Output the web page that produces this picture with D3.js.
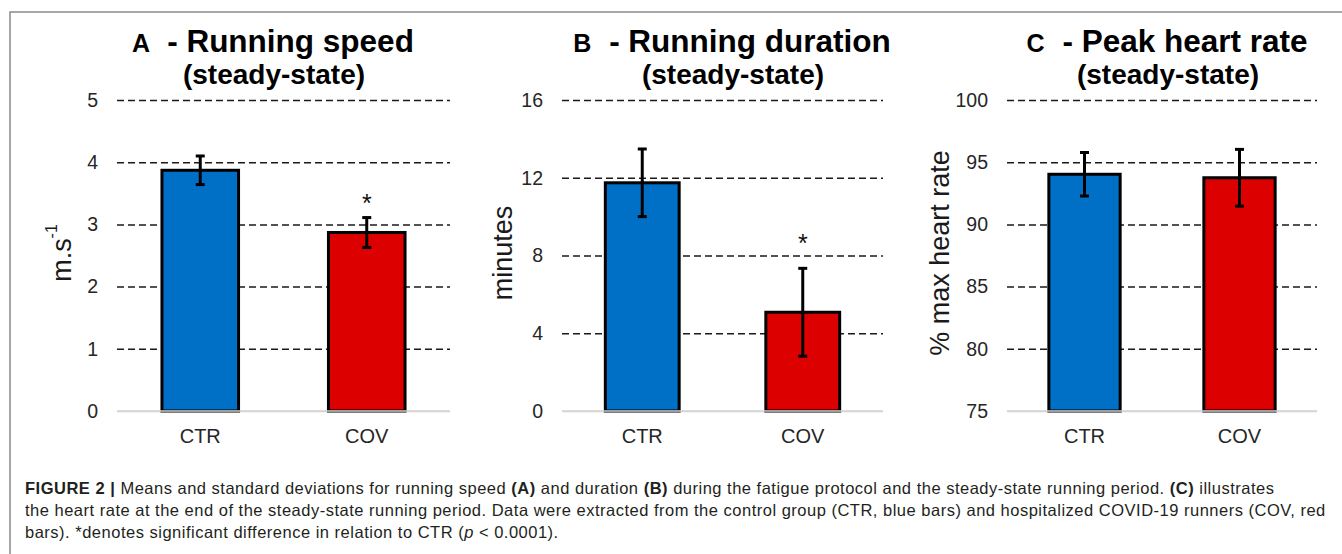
<!DOCTYPE html>
<html>
<head>
<meta charset="utf-8">
<script src="https://cdn.jsdelivr.net/npm/d3@7/dist/d3.min.js"></script>
<style>
  html, body { margin: 0; padding: 0; background: #fff; }
  svg { display: block; }
  text { font-family: "Liberation Sans", Arial, Helvetica, sans-serif; }
</style>
</head>
<body>
<svg id="chart" width="1342" height="554"></svg>
<script>
// ---- data ----
const categories = ["CTR", "COV"];

const speedMean = [3.87, 2.87];
const speedSD   = [0.23, 0.24];
const speedTicks = [0, 1, 2, 3, 4, 5];
const speedSigAt = [null, 3.2];

const durationMean = [11.74, 5.08];
const durationSD   = [1.74, 2.26];
const durationTicks = [0, 4, 8, 12, 16];
const durationSigAt = [null, 8.2];

const hrMean = [94.03, 93.75];
const hrSD   = [1.75, 2.28];
const hrTicks = [75, 80, 85, 90, 95, 100];
const hrSigAt = [null, null];

const barColors = ["#0070C6", "#DC0000"];

const panels = [
  { letter: "A", title: "- Running speed", sub: "(steady-state)", ylab: "m.s", ysup: "-1",
    mean: speedMean, sd: speedSD, ticks: speedTicks, sig: speedSigAt,
    x0: 117, x1: 450, titleX: 273, ylabX: 62 },
  { letter: "B", title: "- Running duration", sub: "(steady-state)", ylab: "minutes", ysup: null,
    mean: durationMean, sd: durationSD, ticks: durationTicks, sig: durationSigAt,
    x0: 562, x1: 883, titleX: 732, ylabX: 503 },
  { letter: "C", title: "- Peak heart rate", sub: "(steady-state)", ylab: "% max heart rate", ysup: null,
    mean: hrMean, sd: hrSD, ticks: hrTicks, sig: hrSigAt,
    x0: 1007, x1: 1317, titleX: 1167, ylabX: 940 }
];

const captionLines = [
  [{t: "FIGURE 2 | ", b: true}, {t: "Means and standard deviations for running speed "}, {t: "(A)", b: true},
   {t: " and duration "}, {t: "(B)", b: true}, {t: " during the fatigue protocol and the steady-state running period. "},
   {t: "(C)", b: true}, {t: " illustrates"}],
  [{t: "the heart rate at the end of the steady-state running period. Data were extracted from the control group (CTR, blue bars) and hospitalized COVID-19 runners (COV, red"}],
  [{t: "bars). *denotes significant difference in relation to CTR ("}, {t: "p", i: true}, {t: " < 0.0001)."}]
];

// ---- drawing ----
const svg = d3.select("#chart");
const yTop = 100, yBot = 411;

// frame
svg.append("path")
  .attr("d", "M10,554 L10,12 L1342,12")
  .attr("fill", "none").attr("stroke", "#8a8a8a").attr("stroke-width", 1.5);

panels.forEach(p => {
  const g = svg.append("g");
  const x = d3.scaleBand().domain(categories).range([p.x0, p.x1])
    .paddingInner(0.54).paddingOuter(0.27);
  const y = d3.scaleLinear().domain([p.ticks[0], p.ticks[p.ticks.length - 1]]).range([yBot, yTop]);

  // gridlines (dashed, not at baseline)
  const yAxis = d3.axisLeft(y).tickValues(p.ticks).tickSize(-(p.x1 - p.x0)).tickPadding(19).tickFormat(d3.format("d"));
  const ag = g.append("g").attr("transform", `translate(${p.x0},0)`).call(yAxis);
  ag.select(".domain").remove();
  ag.selectAll(".tick line")
    .attr("stroke", d => d === p.ticks[0] ? "#d4d4d4" : "#1a1a1a")
    .attr("stroke-width", 1.5)
    .attr("stroke-dasharray", d => d === p.ticks[0] ? null : "7,4");
  ag.selectAll(".tick text")
    .attr("fill", "#262626").attr("font-size", 19.5)
    .attr("font-family", "Liberation Sans, Arial, sans-serif");

  // bars
  g.selectAll("rect.bar").data(categories).enter().append("rect")
    .attr("class", "bar")
    .attr("x", d => x(d))
    .attr("width", x.bandwidth())
    .attr("y", (d, i) => y(p.mean[i]))
    .attr("height", (d, i) => y(p.ticks[0]) - y(p.mean[i]))
    .attr("fill", (d, i) => barColors[i])
    .attr("stroke", "#000").attr("stroke-width", 3);

  // baseline redraw (light gray)
  g.append("line").attr("x1", p.x0).attr("x2", p.x1).attr("y1", y(p.ticks[0])).attr("y2", y(p.ticks[0]))
    .attr("stroke", "#d4d4d4").attr("stroke-width", 1.5);

  // error bars
  categories.forEach((c, i) => {
    const cx = x(c) + x.bandwidth() / 2;
    const hi = y(p.mean[i] + p.sd[i]), lo = y(p.mean[i] - p.sd[i]);
    g.append("line").attr("x1", cx).attr("x2", cx).attr("y1", hi).attr("y2", lo)
      .attr("stroke", "#000").attr("stroke-width", 3);
    [hi, lo].forEach(yy => {
      g.append("line").attr("x1", cx - 4.5).attr("x2", cx + 4.5).attr("y1", yy).attr("y2", yy)
        .attr("stroke", "#000").attr("stroke-width", 3);
    });
    if (p.sig[i] !== null) {
      g.append("text").attr("x", cx).attr("y", y(p.sig[i])).attr("text-anchor", "middle")
        .attr("font-size", 25).attr("fill", "#111").text("*");
    }
  });

  // x labels
  const xAxis = d3.axisBottom(x).tickSize(0).tickPadding(0);
  const xg = g.append("g").attr("transform", `translate(0,${yBot})`).call(xAxis);
  xg.select(".domain").remove();
  xg.selectAll(".tick text").attr("y", 32).attr("dy", 0)
    .attr("fill", "#262626").attr("font-size", 20)
    .attr("font-family", "Liberation Sans, Arial, sans-serif");

  // title
  const t = g.append("text").attr("x", p.titleX).attr("y", 52).attr("text-anchor", "middle")
    .attr("font-weight", "bold").attr("fill", "#000").style("white-space", "pre");
  t.append("tspan").attr("font-size", 25).text(p.letter + "  ");
  t.append("tspan").attr("font-size", 31.5).attr("dx", 4).text(p.title);
  g.append("text").attr("x", p.titleX + 1).attr("y", 84).attr("text-anchor", "middle")
    .attr("font-weight", "bold").attr("font-size", 28).attr("fill", "#000").text(p.sub);

  // y label
  const yl = g.append("text")
    .attr("transform", `translate(${p.ylabX},253) rotate(-90)`)
    .attr("text-anchor", "middle").attr("dy", "0.35em")
    .attr("font-size", 27).attr("fill", "#1a1a1a");
  yl.append("tspan").text(p.ylab);
  if (p.ysup) yl.append("tspan").attr("font-size", 16).attr("dy", "-0.9em").text(p.ysup);
});

// caption
captionLines.forEach((line, li) => {
  const t = svg.append("text").attr("x", 25).attr("y", 494 + li * 22)
    .attr("font-size", 16.5).attr("letter-spacing", 0.5)
    .attr("fill", "#231f20").style("white-space", "pre");
  line.forEach(s => {
    const ts = t.append("tspan").text(s.t);
    if (s.b) ts.attr("font-weight", "bold");
    if (s.i) ts.attr("font-style", "italic");
  });
});
</script>
</body>
</html>
